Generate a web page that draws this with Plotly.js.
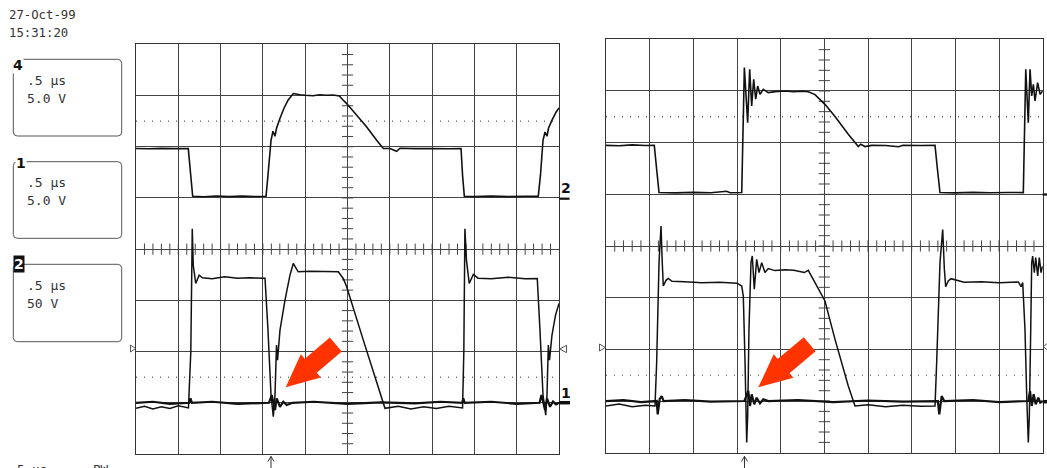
<!DOCTYPE html>
<html><head><meta charset="utf-8">
<script src="https://cdn.plot.ly/plotly-3.0.1.min.js"></script>
<style>html,body{margin:0;padding:0;background:#fff;overflow:hidden}</style>
</head><body><div id="chart" style="width:1047px;height:468px"></div>
<script>
// ---------------- DATA (time in µs, amplitude in volts) ----------------
// Left capture
const leftCh2T = [0.000,0.150,0.300,0.450,0.618,0.647,0.670,0.800,0.950,1.100,1.250,1.400,1.537,1.560,1.596,1.619,1.643,1.661,1.702,1.749,1.797,1.859,1.939,2.000,2.092,2.170,2.246,2.330,2.403,2.450,2.490,2.609,2.727,2.845,2.923,3.002,3.081,3.121,3.300,3.500,3.700,3.842,3.860,3.881,4.000,4.200,4.400,4.600,4.755,4.781,4.811,4.835,4.858,4.876,4.917,4.965,5.000];
const leftCh2V = [48.2,48.0,48.4,48.1,48.2,22.2,1.7,1.2,1.9,1.3,1.8,1.4,1.7,22.2,56.3,65.1,60.2,68.0,77.8,87.6,95.4,101.9,100.7,100.2,99.8,100.8,100.2,100.5,99.6,95.4,92.1,80.7,69.3,56.3,48.2,48.2,45.6,48.5,48.1,48.3,48.0,48.2,22.0,1.7,1.3,1.8,1.3,1.7,1.7,22.2,56.3,64.4,60.2,68.0,75.9,83.7,87.9];

const leftCh4T = [0.000,0.100,0.200,0.300,0.400,0.500,0.620,0.648,0.665,0.677,0.706,0.746,0.785,0.900,1.050,1.200,1.350,1.525,1.560,1.596,1.623,1.643,1.661,1.673,1.702,1.761,1.820,1.859,1.891,1.918,2.057,2.234,2.391,2.450,2.490,2.687,2.943,3.100,3.250,3.400,3.550,3.700,3.860,3.875,3.888,3.906,3.939,3.987,4.043,4.200,4.400,4.600,4.743,4.775,4.811,4.843,4.858,4.874,4.888,4.917,4.959,5.000];
const leftCh4V = [-0.54,-0.35,-0.60,-0.40,-0.55,-0.30,-0.50,5.0,17.0,13.4,11.65,12.46,12.2,12.1,12.3,12.15,12.2,12.17,7.10,0.76,-1.36,0.76,5.63,4.17,7.10,10.02,12.46,13.60,13.15,12.79,12.85,12.82,12.79,12.14,11.32,6.12,-0.54,-0.35,-0.60,-0.40,-0.55,-0.35,-0.50,5.0,17.0,13.93,11.65,12.53,12.17,12.1,12.25,12.1,12.14,7.10,0.76,-1.20,0.76,5.63,4.17,6.61,8.56,9.70];

const leftCh1T = [0.000,0.200,0.400,0.630,0.644,0.660,0.900,1.200,1.572,1.604,1.643,1.663,1.702,1.741,1.781,1.850,2.100,2.500,2.900,3.300,3.600,3.855,3.869,3.885,4.200,4.500,4.770,4.793,4.835,4.858,4.894,4.929,4.965,5.000];
const leftCh1V = [0.0,0.1,-0.1,0.0,0.44,0.0,0.1,-0.1,0.0,0.76,-0.71,0.43,-0.39,0.10,-0.22,0.0,0.1,-0.1,0.05,-0.05,0.1,0.0,0.44,0.0,0.1,-0.1,0.0,0.76,-0.71,0.43,-0.39,0.12,-0.15,0.0];

// Right capture
const rightCh2T = [0.000,0.150,0.300,0.450,0.553,0.580,0.607,0.800,1.000,1.200,1.380,1.420,1.554,1.584,1.622,1.645,1.668,1.691,1.714,1.737,1.763,1.801,1.858,1.935,2.050,2.150,2.250,2.316,2.393,2.507,2.622,2.774,2.889,2.916,2.965,3.042,3.200,3.350,3.400,3.600,3.767,3.795,3.824,4.000,4.200,4.400,4.600,4.778,4.806,4.835,4.855,4.874,4.893,4.912,4.942,4.970,5.000];
const rightCh2V = [47.4,47.0,47.8,47.2,47.4,24.0,1.7,1.4,1.9,1.5,3.0,1.5,1.7,122.6,69.4,121.0,85.5,111.3,92.0,104.8,96.8,101.6,98.4,99.4,100.0,99.3,99.8,99.2,96.5,87.1,75.2,58.1,46.2,48.4,46.2,47.4,47.2,46.0,47.4,47.2,47.4,24.0,1.7,1.4,1.9,1.5,1.8,1.7,121.0,69.4,121.0,95.2,106.5,90.3,108.1,96.8,100.0];

const rightCh4T = [0.000,0.150,0.300,0.450,0.561,0.580,0.607,0.630,0.645,0.656,0.687,0.713,0.756,0.900,1.100,1.300,1.500,1.554,1.572,1.592,1.611,1.622,1.637,1.660,1.675,1.698,1.725,1.752,1.783,1.820,1.858,1.935,2.050,2.150,2.270,2.316,2.393,2.507,2.622,2.774,2.851,3.000,3.200,3.400,3.600,3.767,3.786,3.824,3.855,3.874,3.889,3.919,3.950,4.100,4.300,4.500,4.721,4.752,4.771,4.797,4.817,4.835,4.847,4.863,4.874,4.885,4.904,4.920,4.943,4.961,4.981,5.000];
const rightCh4V = [-0.48,-0.30,-0.55,-0.40,-0.48,3.72,13.39,16.94,13.23,11.13,11.68,11.87,11.58,11.55,11.45,11.50,11.40,11.13,10.16,3.72,-4.02,-1.45,6.94,13.39,14.03,10.81,13.71,12.43,13.39,12.43,12.81,12.62,12.70,12.65,12.43,12.65,11.46,9.68,5.97,1.45,-0.48,-0.35,-0.55,-0.40,-0.50,-0.48,3.72,13.39,16.6,12.75,11.07,11.61,11.84,11.50,11.55,11.45,11.52,11.07,11.46,6.94,0.48,-4.02,-1.45,6.94,13.39,14.03,12.43,13.88,12.10,13.88,12.43,13.06];

const rightCh1T = [0.000,0.200,0.400,0.580,0.592,0.615,0.638,0.660,0.900,1.200,1.584,1.629,1.649,1.668,1.698,1.725,1.763,1.801,1.858,2.200,2.600,3.000,3.400,3.800,3.816,3.843,3.873,4.200,4.500,4.835,4.855,4.874,4.897,4.920,4.950,4.972,5.000];
const rightCh1V = [0.0,0.1,-0.1,0.0,-1.29,0.2,0.48,0.0,0.1,-0.05,0.0,0.97,-0.48,0.65,-0.32,0.32,-0.22,0.16,0.0,0.1,-0.1,0.05,-0.05,0.0,-1.29,0.48,0.0,0.1,-0.1,0.0,0.97,-0.48,0.65,-0.32,0.32,-0.16,0.0];

// Channel settings (volts per division, ground level in divisions)
const channelNames = ['4', '1', '2'];
const timebaseText = ['.5 μs', '.5 μs', '.5 μs'];
const voltsText = ['5.0 V', '5.0 V', '50 V'];
const ch2Scale = 50, ch2Ground = 1;
const ch1Scale = 5, ch1Ground = -3;
const ch4Scale = 5, ch4Ground = -3;
const cursorLevels = [2.5, -2.5];   // divisions
const dateText = ['27-Oct-99', '15:31:20'];
const footerText = ['5 μs', 'PW'];

// ---------------- LAYOUT HELPERS ----------------
const W = 1047, H = 468;
const PX = x => x / W, PY = y => 1 - y / H;
const FONT = 'DejaVu Sans Mono';
const GRID = '#444';

function wave(t, V, ground, scale, xa, ya, width) {
  return {type: 'scatter', mode: 'lines', x: t, y: V.map(v => ground + v / scale),
    xaxis: xa, yaxis: ya, line: {color: '#111', width: width, simplify: false}, hoverinfo: 'skip'};
}
const tickXs = [], tickYs = [];
for (let i = 1; i < 50; i++) tickXs.push(i * 0.1);
for (let i = -19; i <= 19; i++) tickYs.push(i * 0.2);
function ticks(xa, ya) {
  return [
    {type: 'scatter', mode: 'markers', x: tickXs, y: tickXs.map(() => 0), xaxis: xa, yaxis: ya, hoverinfo: 'skip',
     marker: {symbol: 'line-ns', size: 8, color: GRID, line: {width: 1, color: GRID}}, cliponaxis: false},
    {type: 'scatter', mode: 'markers', x: tickYs.map(() => 2.5), y: tickYs, xaxis: xa, yaxis: ya, hoverinfo: 'skip',
     marker: {symbol: 'line-ew', size: 8, color: GRID, line: {width: 1, color: GRID}}, cliponaxis: false}
  ];
}

const data = [
  ...ticks('x', 'y'), ...ticks('x2', 'y2'),
  wave(leftCh4T, leftCh4V, ch4Ground, ch4Scale, 'x', 'y', 1.5),
  wave(leftCh1T, leftCh1V, ch1Ground, ch1Scale, 'x', 'y', 2.2),
  wave(leftCh2T, leftCh2V, ch2Ground, ch2Scale, 'x', 'y', 1.6),
  wave(rightCh4T, rightCh4V, ch4Ground, ch4Scale, 'x2', 'y2', 1.5),
  wave(rightCh1T, rightCh1V, ch1Ground, ch1Scale, 'x2', 'y2', 2.2),
  wave(rightCh2T, rightCh2V, ch2Ground, ch2Scale, 'x2', 'y2', 1.6)
];

function xax(x0, x1, anchor) {
  return {domain: [PX(x0), PX(x1)], range: [0, 5], dtick: 0.5, tick0: 0, showgrid: true, gridcolor: GRID, gridwidth: 1,
    zeroline: false, showticklabels: false, ticks: '', showline: true, linecolor: '#333', linewidth: 1, mirror: true,
    fixedrange: true, anchor: anchor};
}
function yax(y0, y1, anchor) {
  return {domain: [PY(y1), PY(y0)], range: [-4, 4], dtick: 1, tick0: 0, showgrid: true, gridcolor: GRID, gridwidth: 1,
    zeroline: false, showticklabels: false, ticks: '', showline: true, linecolor: '#333', linewidth: 1, mirror: true,
    fixedrange: true, anchor: anchor};
}

function pathPx(pts, close) {
  return pts.map((p, i) => (i ? 'L' : 'M') + PX(p[0]) + ',' + PY(p[1])).join(' ') + (close ? ' Z' : '');
}
function rrect(x0, y0, x1, y1, r) {
  const P = (x, y) => PX(x) + ',' + PY(y);
  return 'M' + P(x0 + r, y0) + ' L' + P(x1 - r, y0) + ' Q' + P(x1, y0) + ' ' + P(x1, y0 + r) +
    ' L' + P(x1, y1 - r) + ' Q' + P(x1, y1) + ' ' + P(x1 - r, y1) +
    ' L' + P(x0 + r, y1) + ' Q' + P(x0, y1) + ' ' + P(x0, y1 - r) +
    ' L' + P(x0, y0 + r) + ' Q' + P(x0, y0) + ' ' + P(x0 + r, y0) + ' Z';
}
function bigArrow(tip, tail) {
  const dx = tip[0] - tail[0], dy = tip[1] - tail[1], len = Math.hypot(dx, dy);
  const u = [dx / len, dy / len], n = [-u[1], u[0]];
  const w = 9.2, h = 15.3, L = 33;
  const B = [tip[0] - L * u[0], tip[1] - L * u[1]];
  const p = (c, k) => [c[0] + k * n[0], c[1] + k * n[1]];
  return pathPx([p(tail, w), p(B, w), p(B, h), tip, p(B, -h), p(B, -w), p(tail, -w)], true);
}

const shapes = [];
const annotations = [];
// cursors
[['x', 'y'], ['x2', 'y2']].forEach(([xa, ya]) => {
  cursorLevels.forEach(c => shapes.push({type: 'line', xref: xa, yref: ya, x0: 0, x1: 5, y0: c, y1: c,
    line: {color: '#333', width: 1, dash: '1px,7px'}, layer: 'between'}));
});
// channel boxes
const boxTops = [59.3, 161.7, 264.3], boxBottoms = [136, 238.3, 341.7];
const labelPos = [[18.3, 64.7], [20.8, 163.3], [19.2, 263.7]];
channelNames.forEach((nm, i) => {
  shapes.push({type: 'path', xref: 'paper', yref: 'paper', path: rrect(13.3, boxTops[i], 121.7, boxBottoms[i], 4),
    line: {color: '#555', width: 1}, fillcolor: 'rgba(0,0,0,0)'});
  const inv = (i === 2);
  annotations.push({xref: 'paper', yref: 'paper', x: PX(labelPos[i][0]), y: PY(labelPos[i][1]), text: '<b>' + nm + '</b>',
    showarrow: false, xanchor: 'center', yanchor: 'middle', borderpad: 0,
    bgcolor: inv ? '#111' : '#fff', font: {family: 'DejaVu Sans', size: 14, color: inv ? '#fff' : '#111'}});
  annotations.push({xref: 'paper', yref: 'paper', x: PX(24.5), y: PY(boxTops[i] + 20.7), text: timebaseText[i],
    showarrow: false, xanchor: 'left', yanchor: 'middle', font: {family: FONT, size: 13, color: '#333'}});
  annotations.push({xref: 'paper', yref: 'paper', x: PX(24.5), y: PY(boxTops[i] + 39.2), text: voltsText[i],
    showarrow: false, xanchor: 'left', yanchor: 'middle', font: {family: FONT, size: 13, color: '#333'}});
});
// date / time
annotations.push({xref: 'paper', yref: 'paper', x: PX(7), y: PY(14.5), text: dateText[0], showarrow: false,
  xanchor: 'left', yanchor: 'middle', font: {family: FONT, size: 12.3, color: '#333'}});
annotations.push({xref: 'paper', yref: 'paper', x: PX(7), y: PY(33.3), text: dateText[1], showarrow: false,
  xanchor: 'left', yanchor: 'middle', font: {family: FONT, size: 12.3, color: '#333'}});
// footer (partly below the bottom edge, as in the capture)
annotations.push({xref: 'paper', yref: 'paper', x: PX(15), y: PY(469), text: footerText[0], showarrow: false,
  xanchor: 'left', yanchor: 'middle', font: {family: FONT, size: 12.5, color: '#333'}});
annotations.push({xref: 'paper', yref: 'paper', x: PX(91), y: PY(469), text: footerText[1], showarrow: false,
  xanchor: 'left', yanchor: 'middle', font: {family: FONT, size: 12.5, color: '#333'}});
// channel ground markers
annotations.push({xref: 'paper', yref: 'paper', x: PX(565.5), y: PY(188), text: '<b>2</b>', showarrow: false,
  xanchor: 'center', yanchor: 'middle', font: {family: 'DejaVu Sans', size: 14, color: '#111'}});
annotations.push({xref: 'paper', yref: 'paper', x: PX(566), y: PY(392.5), text: '<b>1</b>', showarrow: false,
  xanchor: 'center', yanchor: 'middle', font: {family: 'DejaVu Sans', size: 14, color: '#111'}});
const gbar = (x0, x1, y, w) => shapes.push({type: 'line', xref: 'paper', yref: 'paper', x0: PX(x0), x1: PX(x1),
  y0: PY(y), y1: PY(y), line: {color: '#111', width: w}});
gbar(559, 569.5, 198.7, 2.2); gbar(559, 570, 402.7, 3.5);
gbar(1042.7, 1047, 194.5, 2.2); gbar(1042.7, 1047, 401.7, 3.5);
// trigger triangles
const tri = pts => shapes.push({type: 'path', xref: 'paper', yref: 'paper', path: pathPx(pts, true),
  line: {color: '#555', width: 1}, fillcolor: '#fff'});
tri([[130.5, 345], [135.5, 348.5], [130.5, 352]]);
tri([[566.5, 345.3], [559.8, 349], [566.5, 352.7]]);
tri([[599.5, 344], [605.3, 347.5], [599.5, 351]]);
tri([[1047.5, 343.2], [1043.3, 346.7], [1047.5, 350.2]]);
// trigger position arrows at the bottom
[271, 744.5].forEach(x => shapes.push({type: 'path', xref: 'paper', yref: 'paper',
  path: pathPx([[x, 469], [x, 456.5]], false) + ' ' + pathPx([[x - 3, 461.5], [x, 456.3], [x + 3, 461.5]], false),
  line: {color: '#333', width: 1}}));
// red arrows
shapes.push({type: 'path', xref: 'paper', yref: 'paper', path: bigArrow([285.7, 387.3], [335.8, 344.5]),
  line: {width: 0}, fillcolor: '#ff3300', layer: 'above'});
shapes.push({type: 'path', xref: 'paper', yref: 'paper', path: bigArrow([758.3, 387.3], [809.7, 344.2]),
  line: {width: 0}, fillcolor: '#ff3300', layer: 'above'});

const layout = {
  width: W, height: H, margin: {l: 0, r: 0, t: 0, b: 0, pad: 0},
  paper_bgcolor: '#fff', plot_bgcolor: 'rgba(0,0,0,0)', showlegend: false,
  xaxis: xax(136, 559, 'y'), yaxis: yax(44.3, 454, 'x'),
  xaxis2: xax(606, 1042.7, 'y2'), yaxis2: yax(39.3, 452.7, 'x2'),
  shapes: shapes, annotations: annotations
};
Plotly.newPlot('chart', data, layout, {staticPlot: true, displayModeBar: false});
</script></body></html>
